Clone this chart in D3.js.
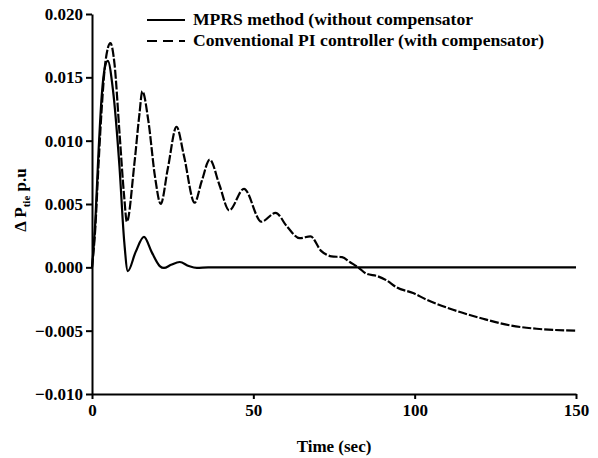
<!DOCTYPE html>
<html><head><meta charset="utf-8">
<script src="https://cdn.jsdelivr.net/npm/d3@7"></script>
<style>body{margin:0;background:#fff}svg{display:block}</style>
</head><body>
<svg id="c" width="598" height="458"></svg>
<script>
const seriesNames = ["MPRS method (without compensator", "Conventional PI controller (with compensator)"];
const xTicks = [0, 50, 100, 150];
const yTicks = [-0.010, -0.005, 0.000, 0.005, 0.010, 0.015, 0.020];
const mprsTime = [0, 1, 2, 3, 4, 4.9, 6.5, 8.5, 10, 11.1, 13.5, 16.1, 18.5, 21, 22.3, 24.5, 27.2, 30, 32.5, 36, 150];
const mprsValue = [0, 0.0035, 0.009, 0.0135, 0.0158, 0.0163, 0.0140, 0.0080, 0.0020, -0.0003, 0.0012, 0.0024, 0.0012, 0.0001, -0.00005, 0.0002, 0.00042, 0.0001, -0.00005, 0, 0];
const piTime = [0, 1, 2, 3, 4.2, 5.7, 7, 8.5, 10, 10.8, 13.1, 14.7, 15.6, 17.5, 19.5, 21.3, 23.5, 26.2, 28.5, 31.8, 34, 36.5, 39.5, 42.5, 47.1, 52.5, 56.9, 60.5, 64.4, 67.7, 71, 74.2, 77.5, 80, 82.5, 85, 88.5, 91.3, 94.4, 99.5, 103.7, 111.9, 121.2, 129.5, 137.8, 150];
const piValue = [0, 0.003, 0.008, 0.0125, 0.0163, 0.0177, 0.0160, 0.0107, 0.0055, 0.0036, 0.0081, 0.0121, 0.0139, 0.0115, 0.0072, 0.0050, 0.0078, 0.0111, 0.0088, 0.0051, 0.0068, 0.0085, 0.0065, 0.0045, 0.0062, 0.0036, 0.0043, 0.0032, 0.0023, 0.00245, 0.0013, 0.00087, 0.0008, 0.0004, 0.0, -0.0005, -0.0007, -0.00103, -0.00158, -0.00203, -0.00255, -0.00335, -0.00406, -0.00458, -0.00485, -0.0050];

const svg = d3.select("#c");
const x = d3.scaleLinear().domain([0, 150]).range([92, 576]);
const y = d3.scaleLinear().domain([-0.010, 0.020]).range([394, 14]);
const font = "'Liberation Serif', 'Times New Roman', serif";

const line = d3.line().x(d => x(d[0])).y(d => y(d[1])).curve(d3.curveMonotoneX);
const mprs = mprsTime.map((t, i) => [t, mprsValue[i]]);
const pi = piTime.map((t, i) => [t, piValue[i]]);

svg.append("path").datum(mprs).attr("d", line).attr("fill", "none")
  .attr("stroke", "#000").attr("stroke-width", 2.2);
svg.append("path").datum(pi).attr("d", line).attr("fill", "none")
  .attr("stroke", "#000").attr("stroke-width", 2.2).attr("stroke-dasharray", "9,2");

const xAxis = svg.append("g").attr("transform", "translate(0,394)")
  .call(d3.axisBottom(x).tickValues(xTicks).tickFormat(d3.format("d")).tickSize(5).tickSizeOuter(0));
const yAxis = svg.append("g").attr("transform", "translate(92,0)")
  .call(d3.axisLeft(y).tickValues(yTicks).tickFormat(d3.format(".3f")).tickSize(6).tickSizeOuter(0));
[xAxis, yAxis].forEach(g => {
  g.select(".domain").attr("stroke", "#000").attr("stroke-width", 2);
  g.selectAll(".tick line").attr("stroke", "#000").attr("stroke-width", 2);
  g.selectAll("text").attr("font-family", font).attr("font-weight", "bold")
    .attr("font-size", 17).attr("fill", "#000");
});
xAxis.selectAll("text").attr("dy", "0.95em").attr("y", 6);
yAxis.selectAll("text").attr("x", -9).text(d => d3.format(".3f")(d).replace("-", "\u2212"));

svg.append("text").attr("x", 334).attr("y", 452).attr("text-anchor", "middle")
  .attr("font-family", font).attr("font-weight", "bold").attr("font-size", 17).text("Time (sec)");

const yl = svg.append("text").attr("transform", "translate(26,200) rotate(-90)")
  .attr("text-anchor", "middle").attr("font-family", font).attr("font-weight", "bold").attr("font-size", 17);
yl.append("tspan").text("\u0394 P");
yl.append("tspan").attr("font-size", 11).attr("dy", 4).text("tie");
yl.append("tspan").attr("dy", -4).text(" p.u");

const leg = svg.append("g");
const styles = [null, "10,6"];
seriesNames.forEach((n, i) => {
  const yy = 20 + i * 21;
  leg.append("line").attr("x1", 147).attr("x2", 185).attr("y1", yy).attr("y2", yy)
    .attr("stroke", "#000").attr("stroke-width", 2.2).attr("stroke-dasharray", styles[i]);
  leg.append("text").attr("x", 193).attr("y", yy + 5).attr("font-family", font)
    .attr("font-weight", "bold").attr("font-size", 17.6).text(n);
});
</script>
</body></html>
